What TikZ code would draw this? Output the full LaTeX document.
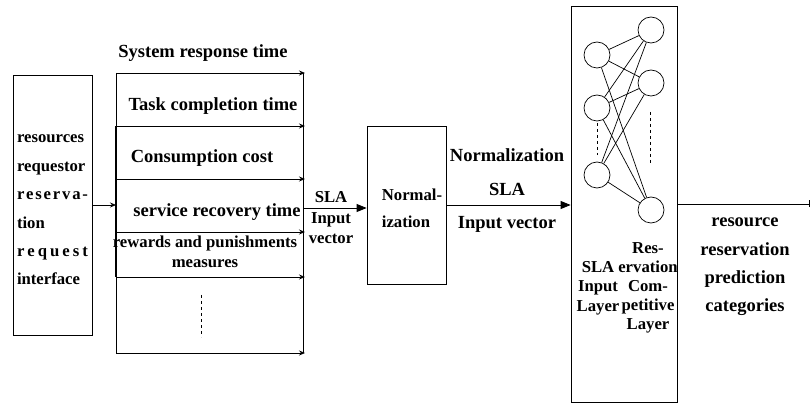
\documentclass[tikz,border=0pt]{standalone}
\usepackage{fontspec}
\setmainfont{Liberation Serif}
\usepackage{tikz}
\usetikzlibrary{arrows.meta, calc}
\newcommand{\lbltxt}{\fontsize{18.5}{20}\selectfont\bfseries}
\newcommand{\smltxt}{\fontsize{16.7}{20}\selectfont\bfseries}
\newcommand{\spreadword}[1]{\makebox[71pt][s]{#1}}
\tikzset{
	box/.style={draw, line width=0.8pt, inner sep=0pt},
	neuron/.style={draw, circle, line width=0.7pt, minimum size=26pt, inner sep=0pt},
	feat/.style={line width=0.8pt, -{Stealth[length=6pt, width=5pt]}},
	bigarrow/.style={line width=0.8pt, -{Triangle[length=10pt, width=8pt]}},
}

\begin{document}
\begin{tikzpicture}[x=1pt, y=-1pt]
	\useasboundingbox (0,0) rectangle (811,403);

% REQUEST

	\node[box, minimum width=79pt, minimum height=260pt] (req) at (52.5,205) {};
	\node[text width=71pt, align=left, inner sep=0pt,
		font=\fontsize{16.7}{28.4}\selectfont\bfseries] (reqtxt) at (52.5,210)
		{resources\\requestor\\\spreadword{r\hfil e\hfil s\hfil e\hfil r\hfil v\hfil a\hfil -}\\tion\\\spreadword{r\hfil e\hfil q\hfil u\hfil e\hfil s\hfil t}\\interface};

% SLA ATTRIBUTES

	\foreach \y [count=\i] in {73,126,179,232,277,353} {
		\coordinate (a\i) at (116,\y);
		\coordinate (b\i) at (305,\y);
		\draw[feat] (a\i) -- (b\i);
	}
	\coordinate (rtop) at (303,73);
	\coordinate (rbot) at (303,353);
	\draw[line width=0.8pt] (a1) -- (a6);
	\draw[line width=1.6pt] (a2) -- (a5);
	\draw[line width=0.8pt] (rtop) -- (rbot);

	\draw[feat] (req.east) -- (req.east -| a1);

	% labels
	\node[font=\lbltxt] (srt) at (203,53) {System response time};
	\node[font=\lbltxt] (tct) at (213,106) {Task completion time};
	\node[font=\lbltxt] (cc) at (202,158) {Consumption cost};
	\node[font=\lbltxt] (srv) at (217,212) {service recovery time};
	\node[font=\smltxt, align=center] (rpm) at (205,252) {rewards and punishments\\measures};

	\coordinate (d1) at (201,295);
	\coordinate (d2) at (201,337);
	\draw[dashed] (d1) -- (d2);

% NORMALIZATION

	\node[box, minimum width=79pt, minimum height=158pt] (norm) at (406.5,205) {};
	\node[font=\fontsize{16.7}{27}\selectfont\bfseries, align=left] (normtxt) at (412,208) {Normal-\\ization};

	\coordinate (slain) at (303,208);
	\draw[bigarrow] (slain) -- (slain -| norm.west);
	\node[font=\fontsize{16.7}{20.5}\selectfont\bfseries, align=center] (sla1) at (331,218) {SLA\\Input\\vector};

	\node[box, minimum width=106pt, minimum height=396pt] (net) at (624,204) {};
	\draw[bigarrow] (norm.east) -- (norm.east -| net.west);
	\node[font=\fontsize{18.5}{33.5}\selectfont\bfseries, align=center] (sla2) at (507,191) {Normalization\\SLA\\Input vector};

% NETWORK

	\foreach \n/\x/\y in {i1/597/55, i2/597/108, i3/597/175, c1/651/30, c2/651/83, c3/651/210}
		\node[neuron] (\n) at (\x,\y) {};
	\foreach \a in {i1,i2,i3}
		\foreach \b in {c1,c2,c3}
			\draw[line width=0.7pt] (\a) -- (\b);

	\coordinate (e1) at (597,123);
	\coordinate (e2) at (597,155);
	\coordinate (f1) at (650,112);
	\coordinate (f2) at (650,163);
	\draw[dashed] (e1) -- (e2);
	\draw[dashed] (f1) -- (f2);

	\node[font=\fontsize{16.7}{19.7}\selectfont\bfseries, align=center] (inlayer) at (598,288) {SLA\\Input\\Layer};
	\node[font=\fontsize{16.7}{19}\selectfont\bfseries, align=center] (complayer) at (648,288) {Res-\\ervation\\Com-\\petitive\\Layer};

% OUTPUT

	\coordinate (outend) at (810,204);
	\draw[line width=0.8pt, -{Bar[width=7pt]}] (net.east) -- (outend);
	\node[font=\fontsize{18.5}{28.3}\selectfont\bfseries, align=center] (cat) at (745,267) {resource\\reservation\\prediction\\categories};

\end{tikzpicture}
\end{document}
